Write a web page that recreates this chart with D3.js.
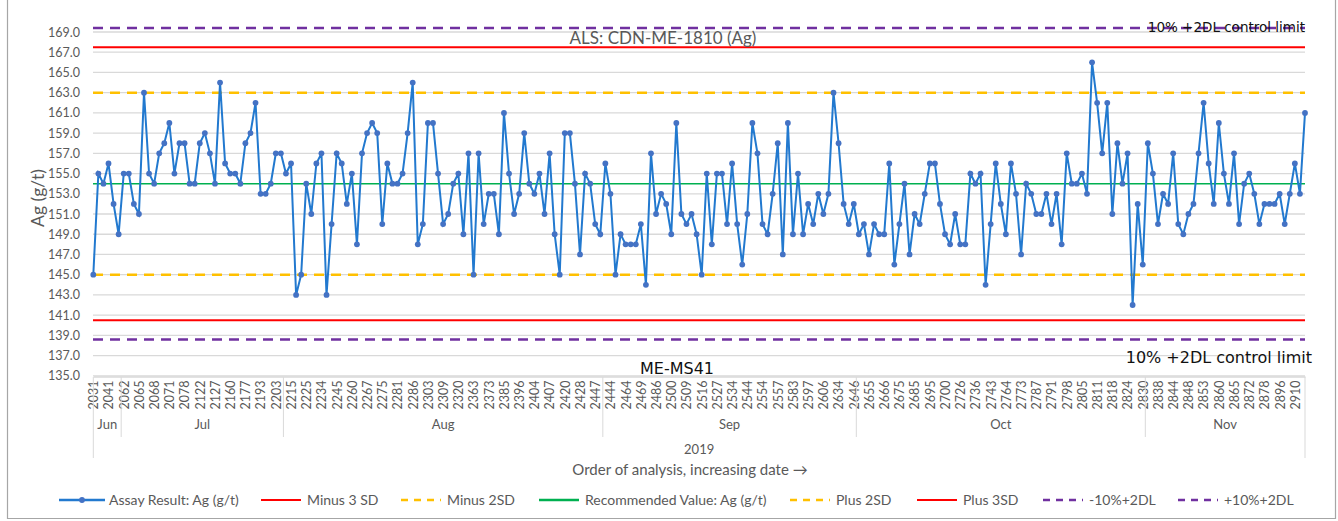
<!DOCTYPE html>
<html>
<head>
<meta charset="utf-8">
<script src="https://cdn.jsdelivr.net/npm/d3@7"></script>
<style>
body { margin: 0; background: #fff; }
svg text { font-family: Lato, 'Open Sans', sans-serif; fill: #595959; }
svg text.tah { font-family: 'DejaVu Sans', Verdana, sans-serif; fill: #111; }
</style>
</head>
<body>
<svg id="chart" width="1338" height="521"></svg>
<script>
// assay results, in order of analysis (g/t)
var assay = [
  145,155,154,156,152,149,155,155,152,151,163,155,154,157,158,160,155,158,158,154,
  154,158,159,157,154,164,156,155,155,154,158,159,162,153,153,154,157,157,155,156,
  143,145,154,151,156,157,143,150,157,156,152,155,148,157,159,160,159,150,156,154,
  154,155,159,164,148,150,160,160,155,150,151,154,155,149,157,145,157,150,153,153,
  149,161,155,151,153,159,154,153,155,151,157,149,145,159,159,154,147,155,154,150,
  149,156,153,145,149,148,148,148,150,144,157,151,153,152,149,160,151,150,151,149,
  145,155,148,155,155,150,156,150,146,151,160,157,150,149,153,158,147,160,149,155,
  149,152,150,153,151,153,163,158,152,150,152,149,150,147,150,149,149,156,146,150,
  154,147,151,150,153,156,156,152,149,148,151,148,148,155,154,155,144,150,156,152,
  149,156,153,147,154,153,151,151,153,150,153,148,157,154,154,155,153,166,162,157,
  162,151,158,154,157,142,152,146,158,155,150,153,152,157,150,149,151,152,157,162,
  156,152,160,155,152,157,150,154,155,153,150,152,152,152,153,150,153,156,153,161
];

// sample numbers shown on the axis (every third sample)
var tickLabels = [
  "2031","2041","2062","2065","2068","2071","2078","2122","2127","2160",
  "2177","2193","2203","2215","2225","2234","2245","2260","2267","2275",
  "2281","2286","2303","2309","2320","2363","2373","2385","2396","2404",
  "2407","2420","2428","2447","2444","2464","2469","2486","2500","2509",
  "2516","2527","2534","2544","2554","2557","2583","2597","2606","2634",
  "2646","2655","2666","2675","2685","2695","2700","2726","2736","2743",
  "2764","2773","2787","2791","2798","2805","2811","2818","2824","2830",
  "2838","2844","2848","2853","2860","2865","2872","2878","2896","2910"
];
var tickStep = 3;

var monthNames = ["Jun", "Jul", "Aug", "Sep", "Oct", "Nov"];
var monthStarts = [0, 6, 38, 101, 151, 208];
var yearLabel = "2019";

var yTicks = [135,137,139,141,143,145,147,149,151,153,155,157,159,161,163,165,167,169];

var controlNames  = ["Minus 3 SD", "Minus 2SD", "Recommended Value: Ag (g/t)", "Plus 2SD", "Plus 3SD", "-10%+2DL", "+10%+2DL"];
var controlValues = [140.5, 145, 154, 163, 167.5, 138.6, 169.4];

var seriesName = "Assay Result: Ag (g/t)";

// styles
var lineStyle = {
  "Minus 3 SD": {color: "#ff0000", dash: null, w: 2},
  "Minus 2SD": {color: "#ffc000", dash: "10,7", w: 2.5},
  "Recommended Value: Ag (g/t)": {color: "#00b050", dash: null, w: 1.5},
  "Plus 2SD": {color: "#ffc000", dash: "10,7", w: 2.5},
  "Plus 3SD": {color: "#ff0000", dash: null, w: 2},
  "-10%+2DL": {color: "#7030a0", dash: "10,7", w: 2.5},
  "+10%+2DL": {color: "#7030a0", dash: "10,7", w: 2.5}
};
var blueLine = "#2279cf", blueDot = "#4472c4";

var svg = d3.select("#chart");

var x = d3.scalePoint()
    .domain(d3.range(assay.length))
    .range([93.3, 1305]);

var y = d3.scaleLinear()
    .domain([135, 169])
    .range([375.8, 32]);

// outer frame
svg.append("path")
    .attr("d", "M7.5,-2V518.5H1335.5V-2")
    .attr("fill", "none")
    .attr("stroke", "#a6a6a6")
    .attr("stroke-width", 1.2);

// gridlines
svg.append("g").selectAll("line")
    .data(yTicks)
    .enter().append("line")
    .attr("x1", 93).attr("x2", 1305)
    .attr("y1", function(d) { return y(d); })
    .attr("y2", function(d) { return y(d); })
    .attr("stroke", "#d9d9d9")
    .attr("stroke-width", 1.3);

// y axis labels
var yAxis = d3.axisLeft(y).tickValues(yTicks).tickSize(0).tickPadding(0)
    .tickFormat(d3.format(".1f"));
var yg = svg.append("g").attr("transform", "translate(80,0)").call(yAxis);
yg.select(".domain").remove();
yg.selectAll("text").style("font-size", "12.5px").style("font-family", "Lato").attr("fill", "#595959");

svg.append("text")
    .attr("transform", "translate(44,198) rotate(-90)")
    .attr("text-anchor", "middle")
    .style("font-size", "17.5px")
    .text("Ag (g/t)");

// control lines
svg.append("g").selectAll("line")
    .data(controlNames)
    .enter().append("line")
    .attr("x1", 93).attr("x2", 1305)
    .attr("y1", function(d, i) { return y(controlValues[i]); })
    .attr("y2", function(d, i) { return y(controlValues[i]); })
    .attr("stroke", function(d) { return lineStyle[d].color; })
    .attr("stroke-width", function(d) { return lineStyle[d].w; })
    .attr("stroke-dasharray", function(d) { return lineStyle[d].dash; });

// series
var line = d3.line()
    .x(function(d, i) { return x(i); })
    .y(function(d) { return y(d); });

svg.append("path")
    .datum(assay)
    .attr("d", line)
    .attr("fill", "none")
    .attr("stroke", blueLine)
    .attr("stroke-width", 2);

svg.append("g").selectAll("circle")
    .data(assay)
    .enter().append("circle")
    .attr("cx", function(d, i) { return x(i); })
    .attr("cy", function(d) { return y(d); })
    .attr("r", 2.9)
    .attr("fill", blueDot);

// x axis: sample labels
var xAxis = d3.axisBottom(x)
    .tickValues(d3.range(0, assay.length, tickStep))
    .tickSize(0)
    .tickFormat(function(d) { return tickLabels[d / tickStep]; });

var xg = svg.append("g").attr("transform", "translate(0,376.5)").call(xAxis);
xg.select(".domain").attr("stroke", "#d9d9d9").attr("stroke-width", 1.3);
xg.selectAll("text")
    .style("font-size", "12.5px")
    .style("font-family", "Lato")
    .attr("fill", "#595959")
    .attr("text-anchor", "end")
    .attr("x", -4)
    .attr("y", 0)
    .attr("dy", "0.35em")
    .attr("transform", "rotate(-90)");

// month / year levels
var step = x.step();
function edge(i) { return i === 0 ? x(0) : x(i) - step / 2; }
var monthEnds = monthStarts.slice(1).concat([assay.length]);

svg.append("g").selectAll("line")
    .data(monthStarts.slice(1))
    .enter().append("line")
    .attr("x1", function(d) { return edge(d); })
    .attr("x2", function(d) { return edge(d); })
    .attr("y1", 377).attr("y2", 437)
    .attr("stroke", "#d9d9d9");

[x(0), x(assay.length - 1)].forEach(function(px) {
  svg.append("line")
      .attr("x1", px).attr("x2", px)
      .attr("y1", 377).attr("y2", 458)
      .attr("stroke", "#d9d9d9");
});

svg.append("g").selectAll("text")
    .data(monthNames)
    .enter().append("text")
    .attr("x", function(d, i) { return (edge(monthStarts[i]) + (monthEnds[i] === assay.length ? x(assay.length - 1) : edge(monthEnds[i]))) / 2; })
    .attr("y", 429)
    .attr("text-anchor", "middle")
    .style("font-size", "13px")
    .text(function(d) { return d; });

svg.append("text")
    .attr("x", (x(0) + x(assay.length - 1)) / 2)
    .attr("y", 454)
    .attr("text-anchor", "middle")
    .style("font-size", "13px")
    .text(yearLabel);

svg.append("text")
    .attr("x", 690)
    .attr("y", 475)
    .attr("text-anchor", "middle")
    .style("font-size", "15px")
    .text("Order of analysis, increasing date \u2192");

// annotations
svg.append("text")
    .attr("x", 663).attr("y", 44)
    .attr("text-anchor", "middle")
    .style("font-size", "17px")
    .text("ALS: CDN-ME-1810 (Ag)");

svg.append("text").attr("class", "tah")
    .attr("x", 1305).attr("y", 32)
    .attr("text-anchor", "end")
    .style("font-size", "13.5px")
    .text("10% +2DL control limit");

svg.append("text").attr("class", "tah")
    .attr("x", 1312).attr("y", 363)
    .attr("text-anchor", "end")
    .style("font-size", "16px")
    .text("10% +2DL control limit");

svg.append("text").attr("class", "tah")
    .attr("x", 640).attr("y", 374)
    .style("font-size", "16px")
    .text("ME-MS41");

// legend
var legendItems = [seriesName].concat(controlNames);
var legendX = [59, 261, 401, 539, 790, 917, 1043, 1178];
var lg = svg.append("g").attr("transform", "translate(0,500)");
legendItems.forEach(function(name, i) {
  var g = lg.append("g").attr("transform", "translate(" + legendX[i] + ",0)");
  var st = lineStyle[name] || {color: blueLine, dash: null, w: 2.5};
  g.append("line")
      .attr("x1", 0).attr("x2", i === 0 ? 46 : 40)
      .attr("stroke", st.color)
      .attr("stroke-width", st.w === 1.5 ? 2.5 : st.w)
      .attr("stroke-dasharray", st.dash ? "7,6" : null);
  if (i === 0) {
    g.append("circle").attr("cx", 23).attr("r", 2.9).attr("fill", blueDot);
  }
  g.append("text")
      .attr("x", i === 0 ? 50 : 46)
      .attr("dy", "0.35em")
      .style("font-size", "14px")
      .text(name);
});
</script>
</body>
</html>
